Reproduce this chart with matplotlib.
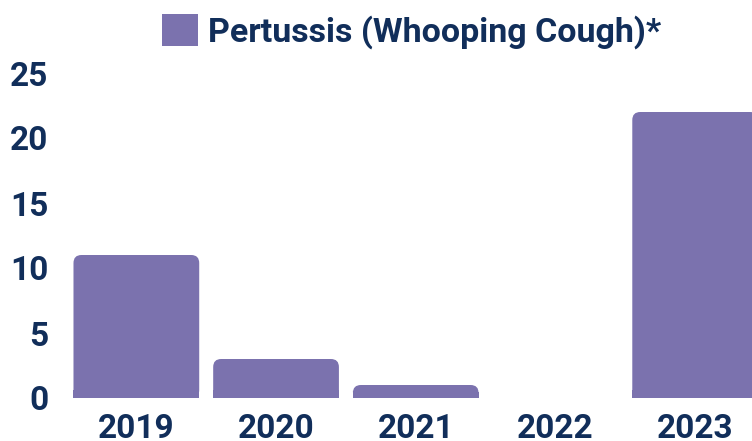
import matplotlib
matplotlib.use('Agg')
import matplotlib.pyplot as plt
from matplotlib.patches import FancyBboxPatch, Rectangle, Patch

years = ['2019', '2020', '2021', '2022', '2023']
cases = [11, 3, 1, 0, 22]
series_name = 'Pertussis (Whooping Cough)*'

bar_color = '#7B72AE'
text_color = '#112E5A'

plt.rcParams['font.family'] = ['Roboto', 'DejaVu Sans']

fig = plt.figure(figsize=(7.52, 4.41), dpi=100)
ax = fig.add_axes([66.5 / 752, 43 / 441, 698.5 / 752, 325 / 441])
ax.set_xlim(-0.5, 4.5)
ax.set_ylim(0, 25)

width = 0.9
px_x = 5 / 698.5
px_y = 25 / 325
aspect = px_y / px_x
r = 8 * px_x
for i, v in enumerate(cases):
    if v <= 0:
        continue
    left = i - width / 2
    ax.add_patch(FancyBboxPatch((left, 0), width, v,
                                boxstyle=f'round,pad=0,rounding_size={r}',
                                mutation_aspect=aspect,
                                fc=bar_color, ec='none'))
    ax.add_patch(Rectangle((left, 0), width, min(v / 2, 8 * px_y),
                           fc=bar_color, ec='none'))

ax.set_xticks(range(len(years)))
ax.set_xticklabels(years)
ax.set_yticks(range(0, 26, 5))
ax.tick_params(length=0, labelsize=24, labelcolor=text_color)
ax.tick_params(axis='x', pad=11)
ax.tick_params(axis='y', pad=13)
for lbl in ax.get_xticklabels() + ax.get_yticklabels():
    lbl.set_fontweight('bold')
for s in ax.spines.values():
    s.set_visible(False)

leg = fig.legend(handles=[Patch(fc=bar_color, ec='none', label=series_name)],
                 loc='upper left', bbox_to_anchor=(162 / 752, 1 - 14 / 441),
                 frameon=False, handlelength=1.05, handleheight=1.05,
                 handletextpad=0.3, borderaxespad=0, borderpad=0,
                 prop={'size': 24.5, 'weight': 'bold'})
for t in leg.get_texts():
    t.set_color(text_color)

fig.savefig('out.png', dpi=100)
